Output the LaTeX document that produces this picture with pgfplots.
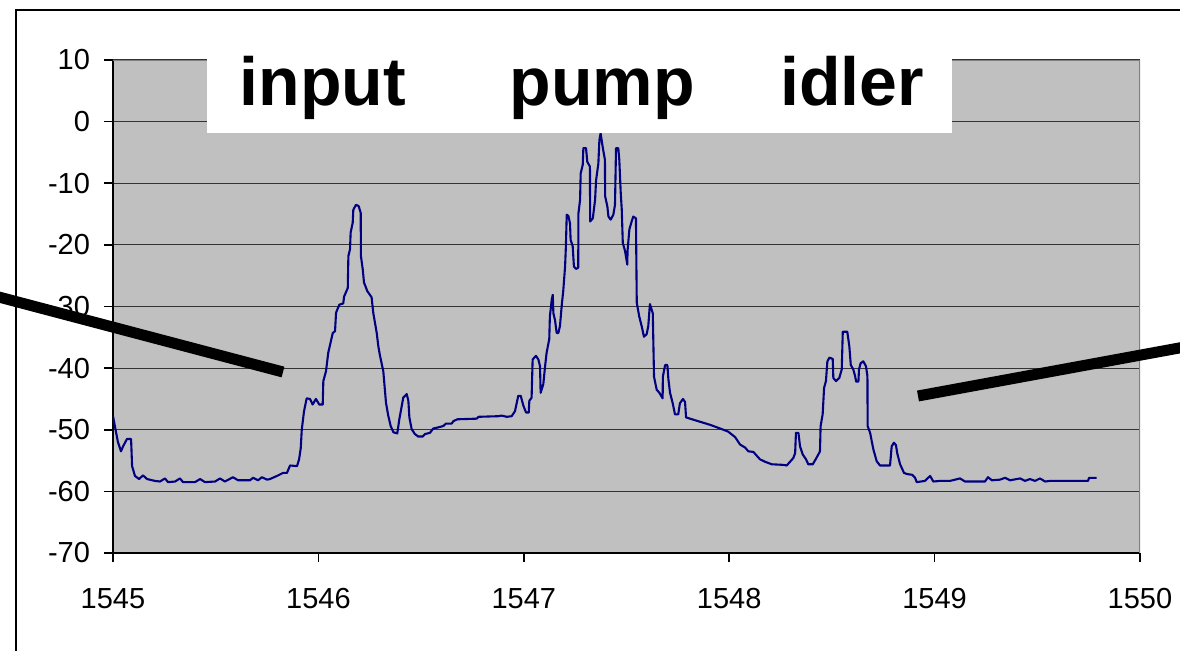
\documentclass[border=0pt]{standalone}
\usepackage{fontspec}
\setmainfont{Liberation Sans}
\usepackage{pgfplots}
\pgfplotsset{compat=1.18}
\definecolor{plotbg}{HTML}{C0C0C0}
\definecolor{navyline}{HTML}{000080}
\definecolor{bordergray}{HTML}{808080}

\begin{document}
\begin{tikzpicture}
\begin{axis}[
  at={(0pt,0pt)}, anchor=south west,
  scale only axis, width=513.5pt, height=246.5pt,
  xmin=1545, xmax=1550, ymin=-70, ymax=10,
  xtick={1545,1546,1547,1548,1549,1550},
  ytick={-70,-60,-50,-40,-30,-20,-10,0,10},
  scaled x ticks=false,
  axis x line*=bottom, axis y line*=left,
  axis line style={black, line width=1pt},
  tick align=outside, major tick length=4.5pt,
  tick style={black, line width=0.8pt},
  ymajorgrids, grid style={black!80, line width=0.6pt},
  axis background/.style={fill=plotbg},
  ticklabel style={font=\fontsize{14.5}{16}\selectfont},
  xticklabel style={yshift=-9.5pt},
  yticklabel style={xshift=-3.5pt},
  /pgf/number format/assume math mode=true,
  /pgf/number format/1000 sep={},
]
\addplot[navyline, line width=1.05pt, line join=round] coordinates {
(1545.000,-47.8) (1545.024,-52.0) (1545.039,-53.5) (1545.049,-52.7) (1545.068,-51.5)
(1545.088,-51.5) (1545.093,-55.9) (1545.107,-57.5) (1545.127,-58.0) (1545.146,-57.4)
(1545.166,-58.0) (1545.204,-58.3) (1545.229,-58.4) (1545.253,-57.9) (1545.268,-58.5)
(1545.302,-58.4) (1545.326,-57.9) (1545.341,-58.5) (1545.399,-58.5) (1545.424,-58.0)
(1545.448,-58.5) (1545.497,-58.4) (1545.521,-57.9) (1545.545,-58.4) (1545.584,-57.7)
(1545.609,-58.2) (1545.667,-58.2) (1545.682,-57.8) (1545.706,-58.2) (1545.725,-57.7)
(1545.750,-58.1) (1545.764,-58.0) (1545.798,-57.5) (1545.828,-57.0) (1545.847,-57.0)
(1545.862,-55.8) (1545.896,-55.9) (1545.906,-54.8) (1545.914,-53.0) (1545.919,-50.0)
(1545.930,-47.0) (1545.943,-44.9) (1545.959,-45.0) (1545.972,-45.9) (1545.988,-45.0)
(1546.004,-45.9) (1546.021,-45.9) (1546.024,-42.1) (1546.037,-40.5) (1546.048,-37.5)
(1546.070,-34.3) (1546.081,-34.0) (1546.086,-31.0) (1546.102,-29.7) (1546.121,-29.5)
(1546.125,-28.4) (1546.143,-27.0) (1546.146,-21.8) (1546.154,-20.7) (1546.157,-18.0)
(1546.167,-16.4) (1546.170,-14.3) (1546.183,-13.5) (1546.196,-13.7) (1546.206,-14.8)
(1546.207,-21.8) (1546.216,-24.0) (1546.222,-26.1) (1546.238,-27.5) (1546.259,-28.5)
(1546.267,-31.0) (1546.284,-34.3) (1546.292,-36.5) (1546.300,-38.0) (1546.316,-40.5)
(1546.329,-45.6) (1546.340,-47.7) (1546.352,-49.4) (1546.365,-50.4) (1546.384,-50.6)
(1546.394,-48.3) (1546.406,-46.1) (1546.413,-44.8) (1546.430,-44.2) (1546.438,-45.3)
(1546.443,-48.0) (1546.454,-49.9) (1546.470,-50.7) (1546.486,-51.1) (1546.508,-51.1)
(1546.519,-50.7) (1546.543,-50.5) (1546.559,-49.8) (1546.573,-49.7) (1546.608,-49.4)
(1546.621,-49.0) (1546.649,-49.0) (1546.657,-48.6) (1546.677,-48.3) (1546.771,-48.2)
(1546.779,-47.9) (1546.876,-47.8) (1546.892,-47.7) (1546.917,-47.9) (1546.941,-47.8)
(1546.957,-47.0) (1546.973,-44.5) (1546.985,-44.5) (1546.998,-46.1) (1547.011,-47.2)
(1547.024,-47.2) (1547.027,-45.3) (1547.038,-44.8) (1547.043,-38.6) (1547.059,-38.0)
(1547.071,-38.6) (1547.079,-39.7) (1547.082,-44.0) (1547.095,-42.6) (1547.103,-39.9)
(1547.111,-37.5) (1547.124,-35.3) (1547.127,-31.6) (1547.136,-28.9) (1547.141,-28.1)
(1547.144,-31.1) (1547.152,-32.2) (1547.160,-34.3) (1547.168,-34.3) (1547.176,-33.2)
(1547.185,-29.7) (1547.192,-27.5) (1547.201,-23.5) (1547.205,-20.2) (1547.209,-15.1)
(1547.217,-15.3) (1547.225,-16.5) (1547.228,-19.2) (1547.238,-20.2) (1547.244,-23.5)
(1547.254,-23.9) (1547.265,-23.7) (1547.266,-14.9) (1547.274,-12.7) (1547.277,-8.4)
(1547.287,-7.0) (1547.290,-4.3) (1547.303,-4.3) (1547.309,-6.5) (1547.322,-7.3)
(1547.323,-16.2) (1547.336,-15.7) (1547.347,-12.7) (1547.352,-9.5) (1547.363,-6.8)
(1547.368,-3.0) (1547.374,-1.9) (1547.384,-4.1) (1547.395,-6.2) (1547.396,-12.1)
(1547.407,-13.8) (1547.412,-15.4) (1547.423,-15.9) (1547.436,-15.1) (1547.444,-13.5)
(1547.449,-4.3) (1547.460,-4.3) (1547.465,-6.2) (1547.472,-11.6) (1547.477,-14.3)
(1547.482,-19.7) (1547.493,-21.0) (1547.504,-23.2) (1547.505,-21.0) (1547.514,-17.5)
(1547.525,-16.2) (1547.533,-15.4) (1547.546,-15.7) (1547.550,-29.4) (1547.562,-31.6)
(1547.574,-33.2) (1547.585,-34.9) (1547.598,-34.5) (1547.606,-33.2) (1547.614,-29.6)
(1547.628,-31.1) (1547.634,-41.4) (1547.647,-43.5) (1547.660,-44.0) (1547.676,-44.9)
(1547.677,-41.4) (1547.688,-39.5) (1547.699,-39.5) (1547.704,-41.8) (1547.712,-44.0)
(1547.725,-45.7) (1547.736,-47.5) (1547.752,-47.5) (1547.760,-45.7) (1547.775,-45.0)
(1547.785,-45.5) (1547.790,-48.0) (1547.819,-48.3) (1547.858,-48.7) (1547.907,-49.2)
(1547.956,-49.8) (1547.995,-50.3) (1548.029,-51.2) (1548.053,-52.4) (1548.078,-52.9)
(1548.093,-53.5) (1548.118,-53.6) (1548.131,-54.1) (1548.150,-54.8) (1548.175,-55.2)
(1548.207,-55.6) (1548.264,-55.7) (1548.280,-55.8) (1548.296,-55.2) (1548.312,-54.6)
(1548.321,-53.8) (1548.325,-50.5) (1548.337,-50.5) (1548.345,-52.7) (1548.358,-54.0)
(1548.374,-54.8) (1548.385,-55.6) (1548.407,-55.6) (1548.426,-54.5) (1548.442,-53.5)
(1548.445,-49.4) (1548.455,-47.5) (1548.462,-43.2) (1548.471,-42.1) (1548.478,-38.9)
(1548.488,-38.3) (1548.504,-38.5) (1548.507,-41.6) (1548.520,-42.1) (1548.536,-41.6)
(1548.548,-40.2) (1548.553,-34.1) (1548.575,-34.1) (1548.585,-36.5) (1548.592,-39.5)
(1548.604,-40.2) (1548.613,-41.3) (1548.618,-42.2) (1548.629,-42.2) (1548.632,-40.2)
(1548.640,-39.2) (1548.653,-38.9) (1548.666,-39.7) (1548.673,-41.3) (1548.674,-49.4)
(1548.686,-50.5) (1548.702,-53.2) (1548.718,-55.1) (1548.734,-55.8) (1548.783,-55.8)
(1548.791,-52.7) (1548.802,-52.1) (1548.812,-52.5) (1548.818,-53.8) (1548.832,-55.6)
(1548.851,-57.0) (1548.867,-57.2) (1548.890,-57.3) (1548.905,-57.8) (1548.913,-58.5)
(1548.953,-58.3) (1548.978,-57.5) (1548.994,-58.4) (1549.026,-58.3) (1549.075,-58.3)
(1549.124,-57.9) (1549.148,-58.4) (1549.245,-58.4) (1549.260,-57.7) (1549.279,-58.2)
(1549.318,-58.1) (1549.343,-57.8) (1549.367,-58.2) (1549.416,-57.9) (1549.440,-58.3)
(1549.464,-58.0) (1549.489,-58.3) (1549.513,-57.9) (1549.538,-58.4) (1549.562,-58.3)
(1549.611,-58.3) (1549.747,-58.3) (1549.752,-57.8) (1549.789,-57.8)
};
\draw[bordergray, line width=1pt] (rel axis cs:0,1) -- (rel axis cs:1,1) -- (rel axis cs:1,0);
\end{axis}
\begin{scope}[x=0.5pt, y=-0.5pt, shift={(-56.5pt,276.5pt)}]
  \useasboundingbox (0,0) rectangle (1180,650);
  % outer frame
  \draw[black, line width=1pt] (16,700) -- (16,10) -- (1200,10);
  % white label box
  \fill[white] (207,57) rectangle (952,133);
  \node[anchor=base, font=\fontsize{34}{40}\selectfont\bfseries, inner sep=0pt] at (323,105) {input};
  \node[anchor=base, font=\fontsize{34}{40}\selectfont\bfseries, inner sep=0pt] at (602,105) {pump};
  \node[anchor=base, font=\fontsize{34}{40}\selectfont\bfseries, inner sep=0pt] at (852,105) {idler};
  % pointer lines
  \draw[black, line width=5.5pt] (-5,296) -- (283,372);
  \draw[black, line width=5.5pt] (918,396) -- (1190,346);
\end{scope}
\end{tikzpicture}
\end{document}
